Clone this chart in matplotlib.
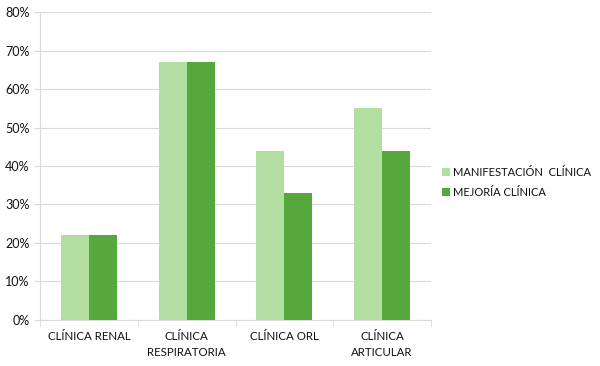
import numpy as np
import matplotlib
matplotlib.use("Agg")
import matplotlib.pyplot as plt
from matplotlib.ticker import PercentFormatter

categorias = ["CLÍNICA RENAL", "CLÍNICA\nRESPIRATORIA", "CLÍNICA ORL", "CLÍNICA\nARTICULAR"]
manifestacion = [22, 67, 44, 55]
mejoria = [22, 67, 33, 44]
series = ["MANIFESTACIÓN  CLÍNICA", "MEJORÍA CLÍNICA"]

plt.rcParams['font.family'] = ['Lato', 'DejaVu Sans']

fig = plt.figure(figsize=(6, 3.66), dpi=100)
ax = fig.add_axes([0.067, 0.126, 0.651, 0.841])

x = np.arange(len(categorias))
w = 0.285
ax.bar(x - w / 2, manifestacion, w, color="#b2dfa1", label=series[0], zorder=3)
ax.bar(x + w / 2, mejoria, w, color="#56a83c", label=series[1], zorder=3)

ax.set_xlim(-0.5, len(categorias) - 0.5)
ax.set_ylim(0, 80)
ax.set_yticks(np.arange(0, 81, 10))
ax.yaxis.set_major_formatter(PercentFormatter(decimals=0))
ax.grid(axis="y", color="#d9d9d9", linewidth=0.8, zorder=0)

ax.set_xticks(x)
ax.set_xticklabels(categorias, fontsize=8.3, color="#111111", linespacing=1.55)
ax.set_xticks(np.arange(-0.5, len(categorias)), minor=True)
ax.tick_params(axis="x", which="major", length=0, pad=8)
ax.tick_params(axis="x", which="minor", length=4, color="#d9d9d9")
ax.tick_params(axis="y", length=4, color="#d9d9d9", labelsize=9, labelcolor="#111111")

for s in ["top", "right"]:
    ax.spines[s].set_visible(False)
ax.spines["left"].set_color("#d9d9d9")
ax.spines["bottom"].set_color("#d9d9d9")

leg = fig.legend(loc="center left", bbox_to_anchor=(0.737, 0.502), frameon=False,
                 fontsize=8.0, handlelength=0.7, handleheight=0.7, handletextpad=0.3,
                 labelspacing=0.8, borderpad=0, borderaxespad=0)
for t in leg.get_texts():
    t.set_color("#111111")

fig.savefig("out.png", dpi=100)
